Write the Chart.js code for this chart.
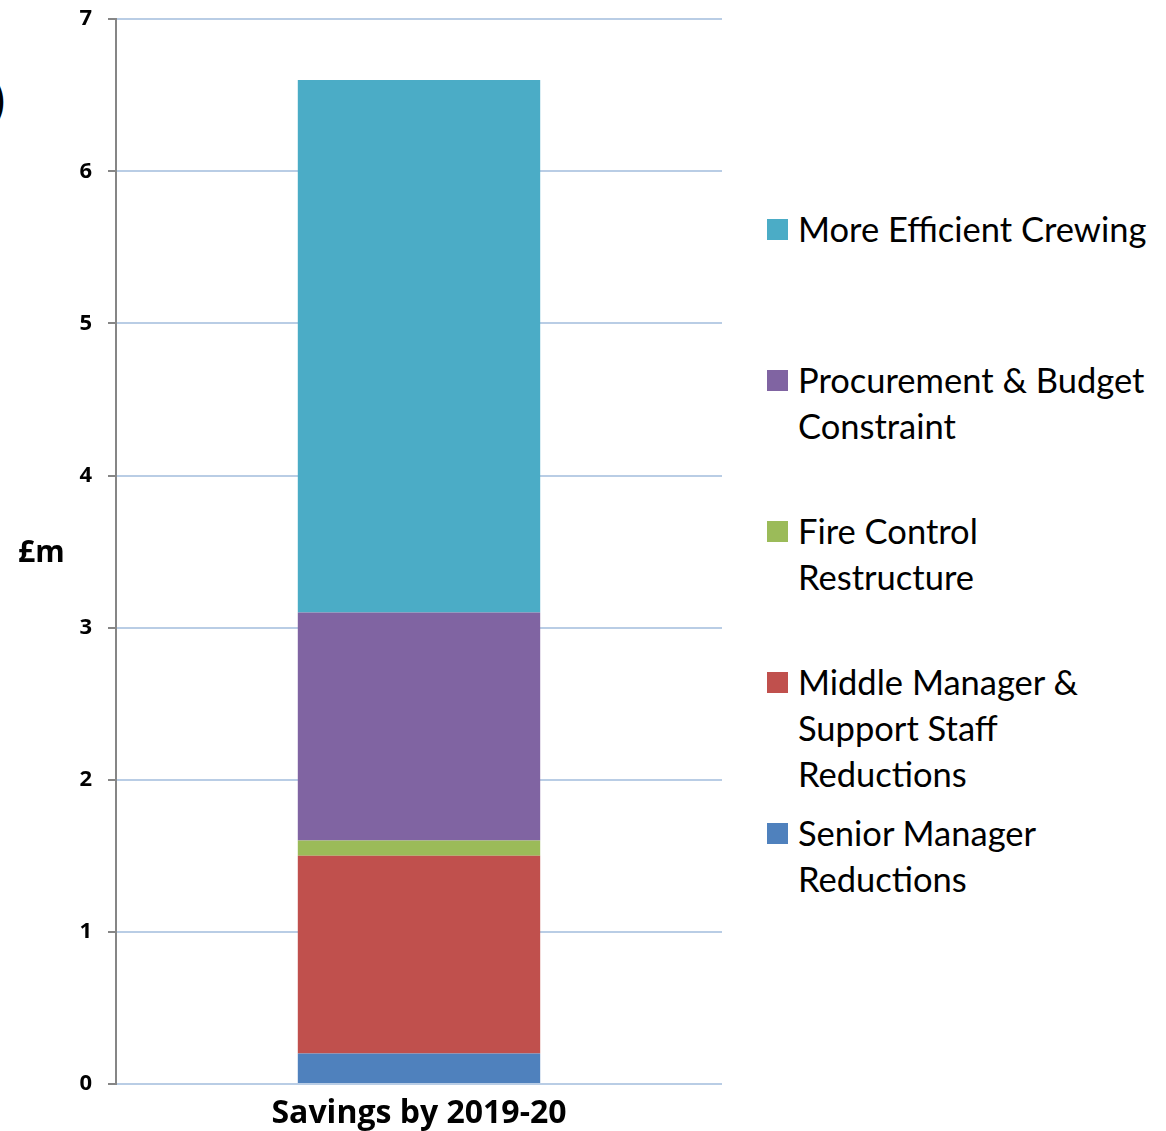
<!DOCTYPE html>
<html>
<head>
<meta charset="utf-8">
<script src="https://cdn.jsdelivr.net/npm/chart.js@4.4.0/dist/chart.umd.min.js"></script>
<style>
    body { margin: 0; background: #fff; font-family: Lato, "Open Sans", sans-serif; }
    #wrap { position: relative; width: 1166px; height: 1131px; overflow: hidden; }
    #box { position: absolute; left: 0; top: -10px; width: 722px; height: 1141px; }
    #ytitle { position: absolute; left: 18px; top: 530px; font-family: "Open Sans"; font-weight: bold; font-size: 30px; color: #000; }
    #paren { position: absolute; left: -7px; top: 72px; font-size: 46px; color: #000; }
    #legend { position: absolute; left: 767px; top: 206px; }
    .item { position: absolute; left: 0; width: 399px; font-size: 34.5px; line-height: 46px; color: #000; }
    .item span.sw { position: absolute; left: 0; top: 13px; width: 21px; height: 21px; }
    .item div { margin-left: 31px; white-space: nowrap; }
</style>
</head>
<body>
<div id="wrap">
    <div id="paren">)</div>
    <div id="box"><canvas id="barChart"></canvas></div>
    <div id="ytitle">£m</div>
    <div id="legend"></div>
</div>
<script>
// datos del grafico
const categorias = ["Savings by 2019-20"];
const seniorManager = [0.2];
const middleManager = [1.3];
const fireControl = [0.1];
const procurement = [1.5];
const crewing = [3.5];
const ticksY = [0, 1, 2, 3, 4, 5, 6, 7];

// etiquetas de la leyenda (una entrada por linea)
const lineasSenior = ["Senior Manager", "Reductions"];
const lineasMiddle = ["Middle Manager &", "Support Staff", "Reductions"];
const lineasFire = ["Fire Control", "Restructure"];
const lineasProc = ["Procurement & Budget", "Constraint"];
const lineasCrew = ["More Efficient Crewing"];

const series = [
    { lineas: lineasSenior, data: seniorManager, color: "#4F81BD" },
    { lineas: lineasMiddle, data: middleManager, color: "#C0504D" },
    { lineas: lineasFire, data: fireControl, color: "#9BBB59" },
    { lineas: lineasProc, data: procurement, color: "#8064A2" },
    { lineas: lineasCrew, data: crewing, color: "#4BACC6" },
];

const ctx = document.getElementById("barChart").getContext("2d");
const barChart = new Chart(ctx, {
    type: "bar",
    data: {
        labels: categorias,
        datasets: series.map(s => ({
            label: s.lineas.join(" "),
            data: s.data,
            backgroundColor: s.color,
            borderWidth: 0,
            barPercentage: 0.4,
            categoryPercentage: 1,
        })),
    },
    options: {
        responsive: true,
        maintainAspectRatio: false,
        animation: false,
        layout: { padding: { top: 7, right: 0, left: 0, bottom: 0 } },
        plugins: {
            legend: { display: false },
            tooltip: { enabled: false },
        },
        scales: {
            x: {
                stacked: true,
                grid: { display: false },
                border: { display: false },
                ticks: {
                    color: "#000",
                    padding: 3,
                    font: { family: "Open Sans", size: 32, weight: 700 },
                },
                afterFit: (scale) => { scale.height = 47; },
            },
            y: {
                stacked: true,
                min: 0,
                max: 7,
                afterBuildTicks: (scale) => { scale.ticks = ticksY.map(v => ({ value: v })); },
                grid: { color: "#B9CDE5", lineWidth: 2, tickLength: 8, tickColor: "#868686" },
                border: { display: true, color: "#868686", width: 2 },
                ticks: {
                    color: "#000",
                    padding: 16,
                    font: { family: "Open Sans", size: 22, weight: 700 },
                },
                afterFit: (scale) => { scale.width = 116; },
            },
        },
    },
});

// leyenda en html, de arriba hacia abajo
const leyenda = document.getElementById("legend");
series.slice().reverse().forEach((s, i) => {
    const item = document.createElement("div");
    item.className = "item";
    item.style.top = (i * 151) + "px";
    const sw = document.createElement("span");
    sw.className = "sw";
    sw.style.background = s.color;
    const txt = document.createElement("div");
    txt.innerHTML = s.lineas.map(l => l.replace("&", "&amp;")).join("<br>");
    item.appendChild(sw);
    item.appendChild(txt);
    leyenda.appendChild(item);
});
</script>
</body>
</html>
